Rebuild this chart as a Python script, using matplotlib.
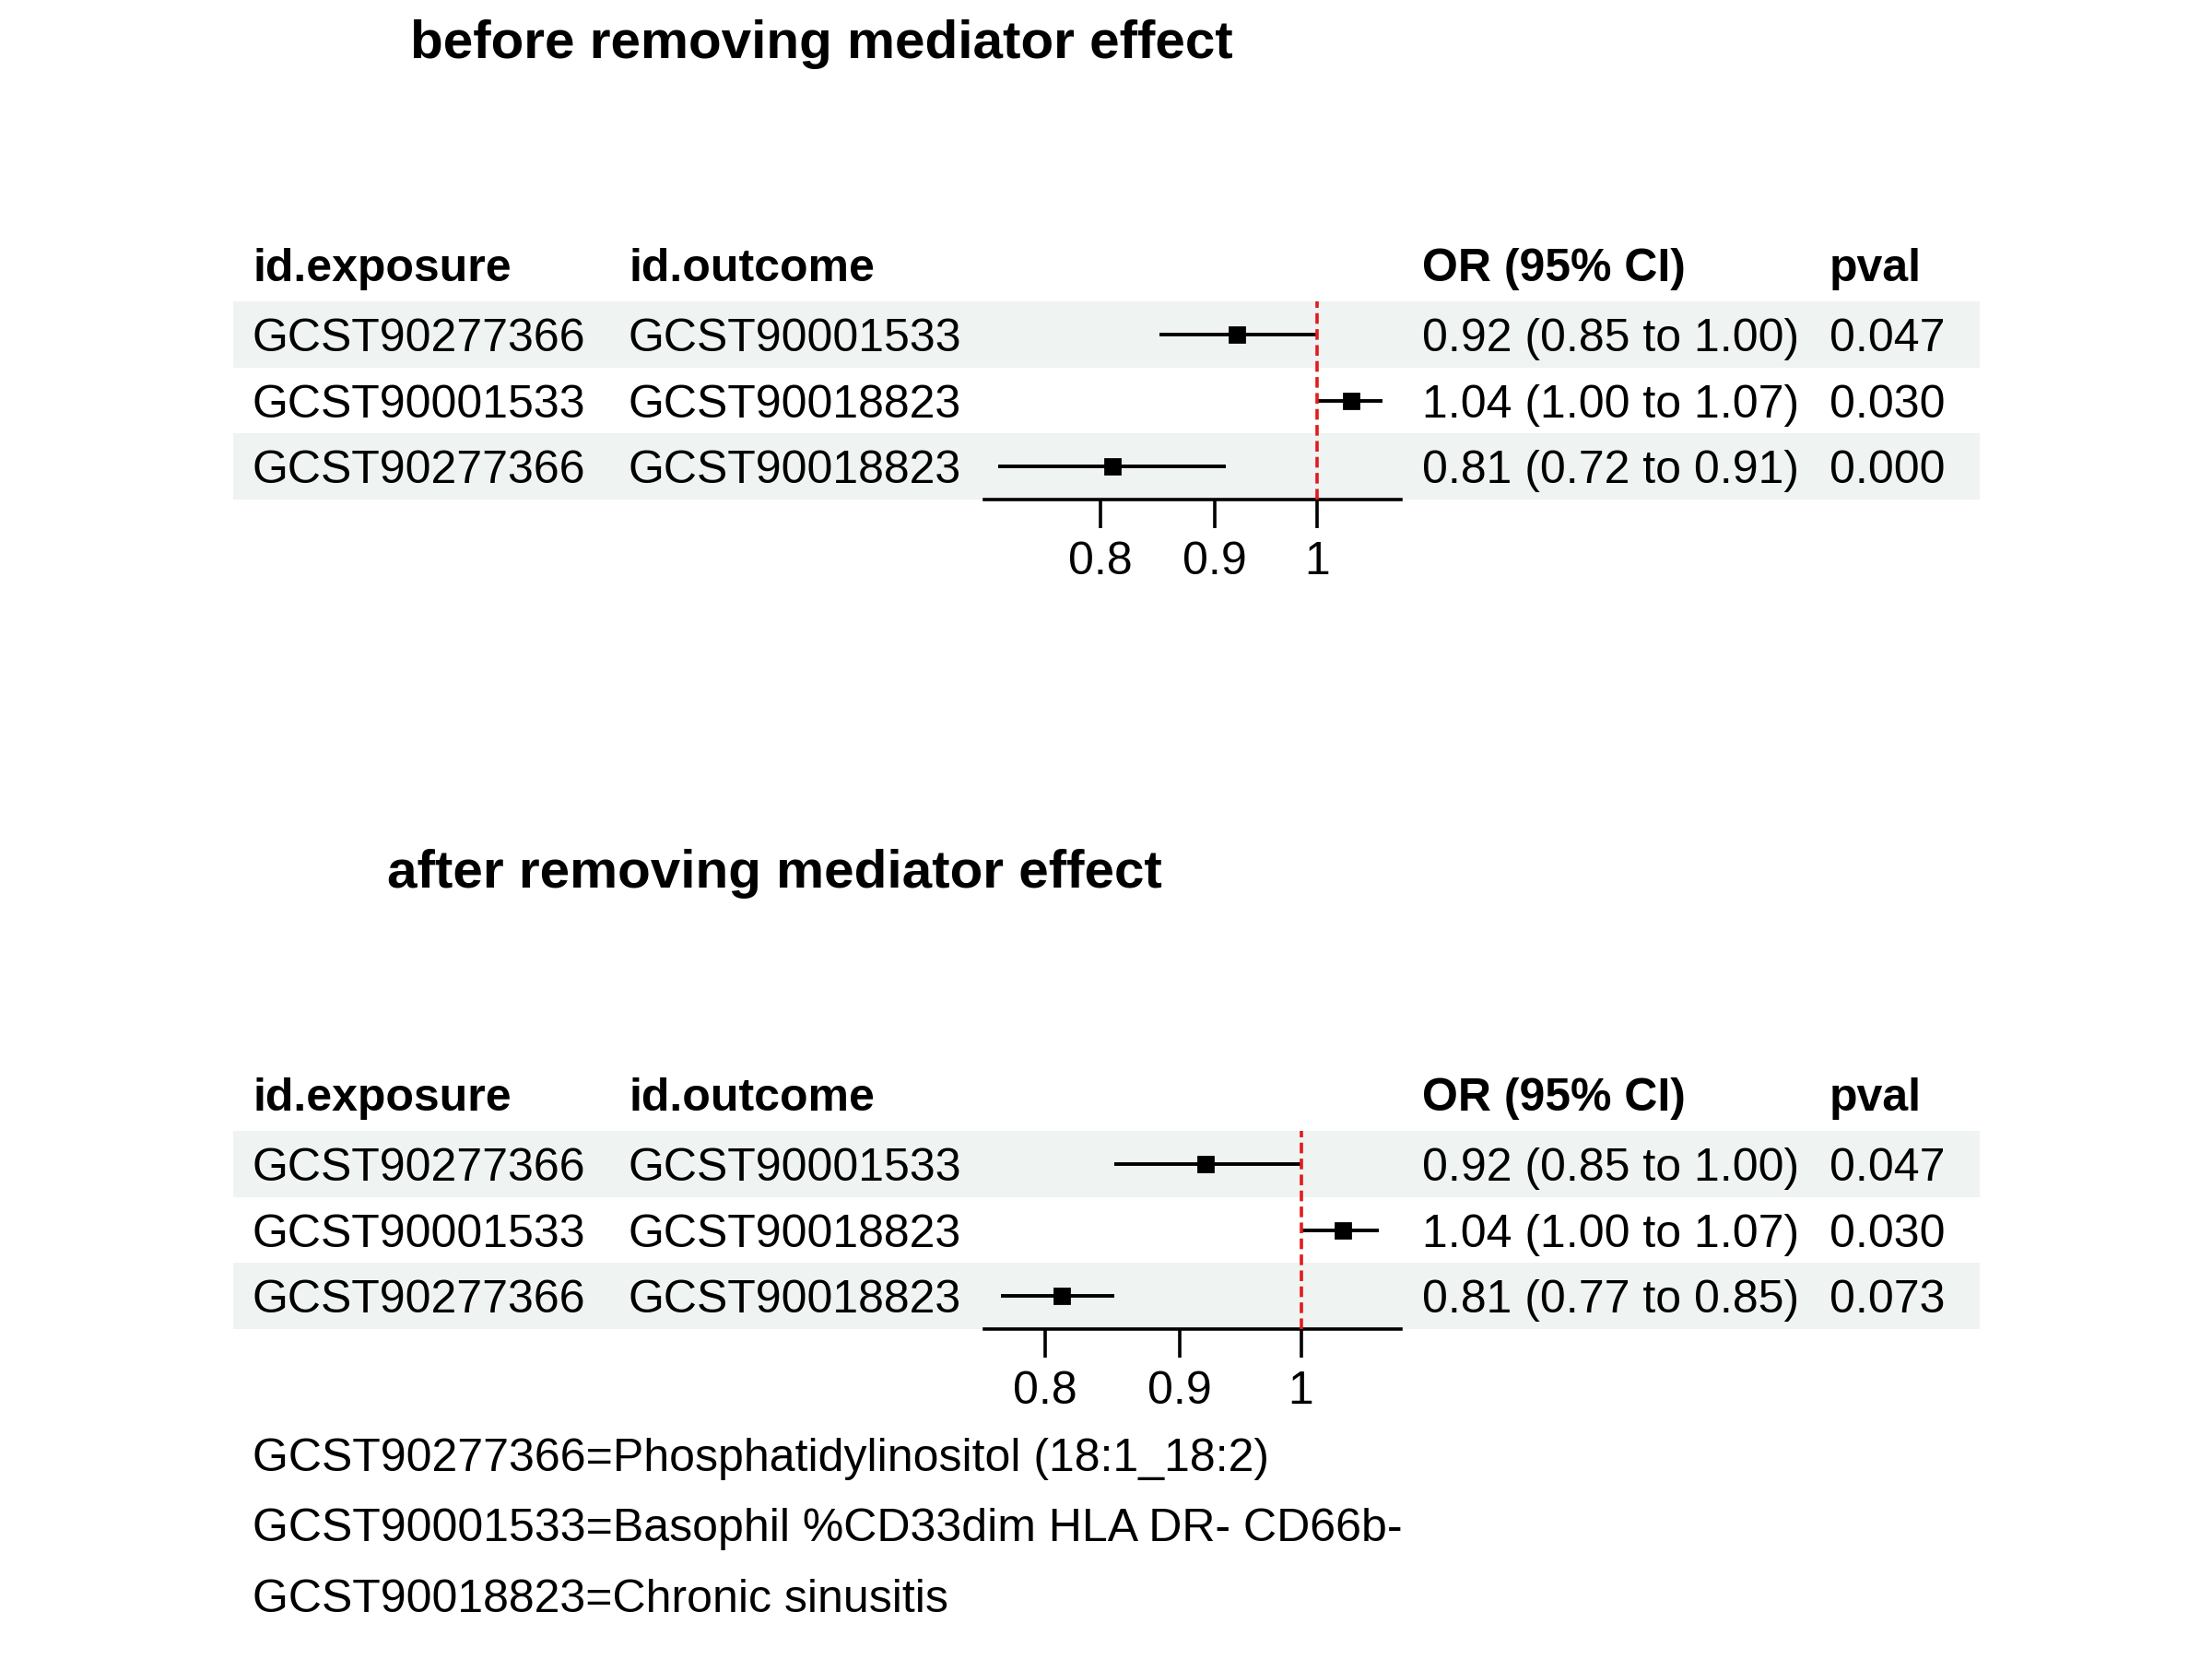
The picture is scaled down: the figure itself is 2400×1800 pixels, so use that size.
"""
Forest plots of the mediation analysis, before and after removing the mediator effect.
"""

import matplotlib
matplotlib.use("Agg")
import matplotlib.pyplot as plt
from matplotlib.patches import Rectangle

plt.rcParams["font.family"] = ["Liberation Sans", "DejaVu Sans"]

# data
exposure = ["GCST90277366", "GCST90001533", "GCST90277366"]
outcome = ["GCST90001533", "GCST90018823", "GCST90018823"]

before_or = [0.921, 1.036, 0.81]
before_lo = [0.85, 1.00, 0.72]
before_hi = [1.00, 1.07, 0.91]
before_p = ["0.047", "0.030", "0.000"]

after_or = [0.92, 1.037, 0.812]
after_lo = [0.85, 1.00, 0.77]
after_hi = [1.00, 1.07, 0.85]
after_p = ["0.047", "0.030", "0.073"]

headers = ["id.exposure", "id.outcome", "OR (95% CI)", "pval"]
tick_vals = [0.8, 0.9, 1.0]
tick_labels = ["0.8", "0.9", "1"]

footnotes = [
    "GCST90277366=Phosphatidylinositol (18:1_18:2)",
    "GCST90001533=Basophil %CD33dim HLA DR- CD66b-",
    "GCST90018823=Chronic sinusitis",
]

W, H = 2400, 1800
FS = 18
BAND = "#eff3f2"


def fx(x):
    return x / W


def fy(y):
    return 1 - y / H


def forest_panel(fig, top, title, title_x, ors, los, his, pvals, xlim):
    """Draw one table + forest block; top is the pixel y of the first row band."""
    row_h = 71.7
    rows = len(ors)

    fig.text(fx(title_x), fy(top - 264), title, fontsize=21,
             fontweight="bold", va="baseline", ha="left")

    # background bands on odd rows
    for i in range(rows):
        if i % 2 == 0:
            fig.patches.append(Rectangle(
                (fx(253), fy(top + (i + 1) * row_h)),
                fx(2148) - fx(253), row_h / H,
                transform=fig.transFigure, facecolor=BAND,
                edgecolor="none", zorder=-1))

    col_x = [274, 682, 1543, 1985]
    for x, h in zip(col_x, headers):
        fig.text(fx(x), fy(top - 22), h, fontsize=FS, fontweight="bold",
                 va="baseline", ha="left")

    for i in range(rows):
        base = top + (i + 0.5) * row_h + 18
        ci_text = f"{ors[i]:.2f} ({los[i]:.2f} to {his[i]:.2f})"
        for x, t in zip(col_x, [exposure[i], outcome[i], ci_text, pvals[i]]):
            fig.text(fx(x), fy(base), t, fontsize=FS, va="baseline", ha="left")

    bottom = top + rows * row_h
    ax = fig.add_axes([fx(1068), fy(bottom), fx(1520) - fx(1068),
                       (bottom - top) / H])
    ax.patch.set_alpha(0)
    ax.set_zorder(1)
    ax.set_xscale("log")
    ax.set_xlim(*xlim)
    ax.set_ylim(rows - 0.5, -0.5)

    for i in range(rows):
        ax.plot([los[i], his[i]], [i, i], color="black", lw=1.4,
                solid_capstyle="butt", zorder=2)
        ax.plot(ors[i], i, marker="s", color="black", markersize=5.5,
                zorder=3)

    ax.axvline(1, color="#e31a1c", lw=1.3, ls=(0, (3.2, 1.6)), zorder=4)

    ax.set_xticks(tick_vals)
    ax.set_xticklabels(tick_labels)
    ax.minorticks_off()
    ax.set_yticks([])
    for side in ["top", "left", "right"]:
        ax.spines[side].set_visible(False)
    ax.spines["bottom"].set_linewidth(1.3)
    ax.tick_params(axis="x", direction="out", length=11, width=1.3,
                   pad=5, labelsize=FS)
    return ax


fig = plt.figure(figsize=(12, 9), dpi=200)
fig.patch.set_facecolor("white")

forest_panel(fig, 327, "before removing mediator effect", 445,
             before_or, before_lo, before_hi, before_p, (0.710, 1.090))
forest_panel(fig, 1227, "after removing mediator effect", 420,
             after_or, after_lo, after_hi, after_p, (0.759, 1.091))

for j, note in enumerate(footnotes):
    fig.text(fx(274), fy(1596 + j * 76.5), note, fontsize=FS,
             va="baseline", ha="left")

fig.savefig("out.png", dpi=200, facecolor="white")
plt.close(fig)
